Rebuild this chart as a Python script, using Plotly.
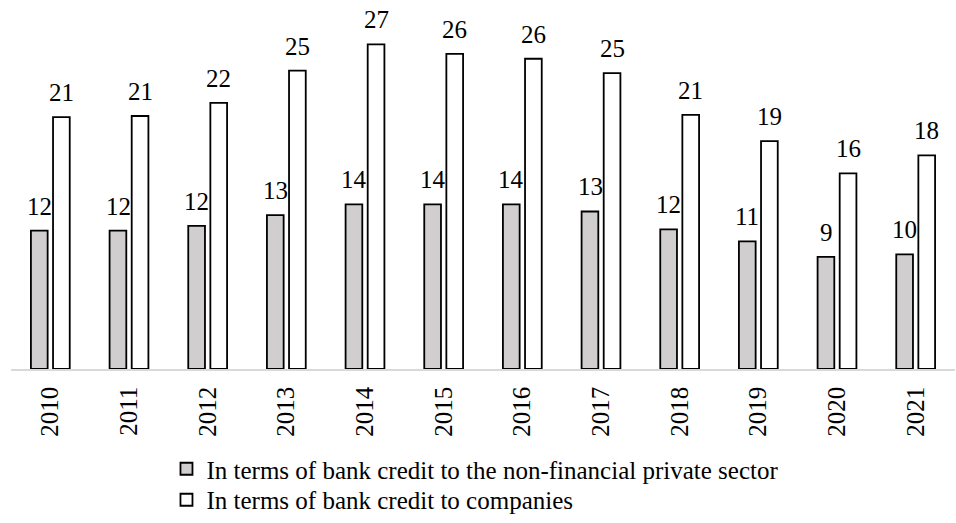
import plotly.graph_objects as go

years = ["2010", "2011", "2012", "2013", "2014", "2015",
         "2016", "2017", "2018", "2019", "2020", "2021"]

# Ratios (%), per year
private_sector = [11.6, 11.6, 12.0, 12.9, 13.8, 13.8, 13.8, 13.2, 11.7, 10.7, 9.4, 9.6]
companies = [21.1, 21.2, 22.3, 25.0, 27.2, 26.4, 26.0, 24.8, 21.3, 19.1, 16.4, 17.9]

series_names = [
    "In terms of bank credit to the non-financial private sector",
    "In terms of bank credit to companies",
]

FONT = "Liberation Serif, Times New Roman, serif"
SIZE = 25

fig = go.Figure()
fig.add_trace(go.Bar(
    x=years, y=private_sector, name=series_names[0], legend="legend",
    marker=dict(color="#d0cece", line=dict(color="#000000", width=1.8)),
))
fig.add_trace(go.Bar(
    x=years, y=companies, name=series_names[1], legend="legend2",
    marker=dict(color="#ffffff", line=dict(color="#000000", width=1.8)),
))

# value labels above each bar (category axis: annotations use the category index)
for vals, shift in ((private_sector, -11), (companies, 11)):
    for i, v in enumerate(vals):
        fig.add_annotation(
            x=i, y=v, xref="x", yref="y", text=f"{v:.0f}",
            showarrow=False, xanchor="center", yanchor="bottom",
            xshift=shift, yshift=9,
            font=dict(family=FONT, size=SIZE, color="#000000"),
        )

legend_style = dict(
    orientation="v", xanchor="left", yanchor="middle", x=0.1647,
    font=dict(family=FONT, size=SIZE, color="#000000"),
    bgcolor="rgba(0,0,0,0)",
)

fig.update_layout(
    width=956, height=523,
    margin=dict(l=11, r=1, t=11, b=153),
    paper_bgcolor="#ffffff", plot_bgcolor="#ffffff",
    barmode="group", bargap=0.438, bargroupgap=0.244,
    font=dict(family=FONT, size=SIZE, color="#000000"),
    showlegend=True,
    legend=dict(legend_style, y=-0.2758),
    legend2=dict(legend_style, y=-0.3621),
)
fig.update_xaxes(
    type="category", range=[-0.5, len(years) - 0.5], automargin=False,
    tickangle=-90, showgrid=False,
    showline=True, linecolor="#d9d9d9", linewidth=1.5,
    ticks="", ticklabelstandoff=6,
    tickfont=dict(family=FONT, size=SIZE, color="#000000"),
)
fig.update_yaxes(range=[0, 30], visible=False, showgrid=False,
                 zeroline=False, automargin=False)

fig.write_html("out.html")
